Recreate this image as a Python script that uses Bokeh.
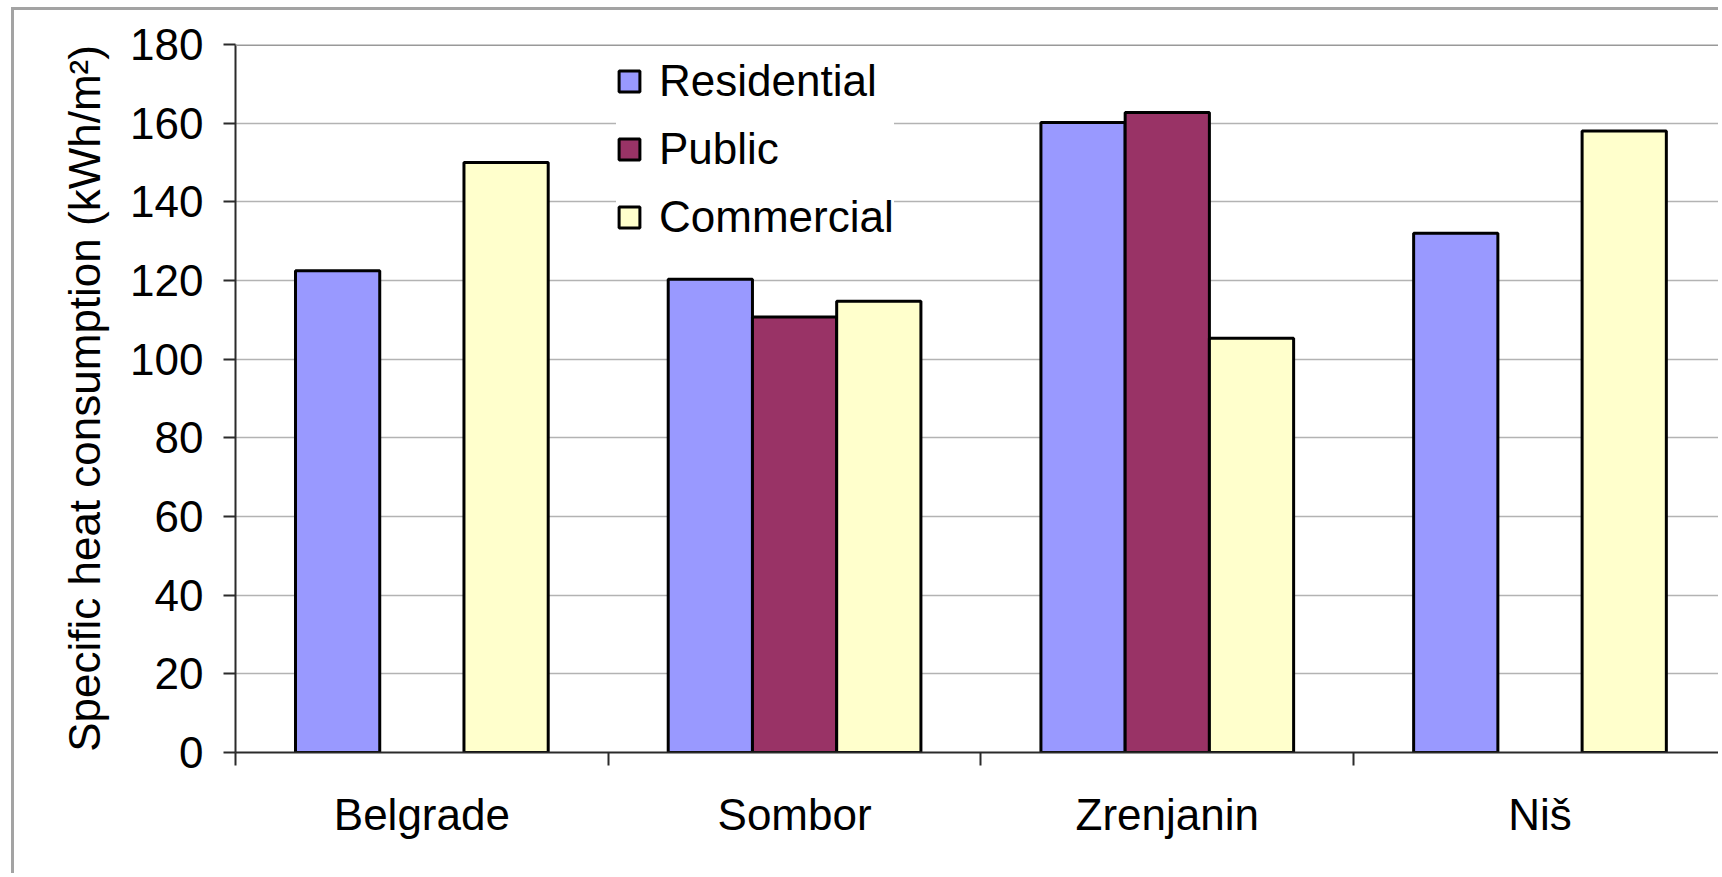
from bokeh.plotting import figure
from bokeh.models import Range1d, FixedTicker, ColumnDataSource, Legend, LegendItem, Span
from bokeh.embed import file_html
from bokeh.resources import INLINE

# ---- data ----
cities = ["Belgrade", "Sombor", "Zrenjanin", "Niš"]
series = ["Residential", "Public", "Commercial"]
residential = [122.5, 120.3, 160.2, 132.0]
public = [None, 110.7, 162.7, None]
commercial = [150.0, 114.7, 105.3, 158.0]
colors = ["#9999FF", "#993366", "#FFFFCC"]
y_ticks = [0, 20, 40, 60, 80, 100, 120, 140, 160, 180]
y_label = "Specific heat consumption (kWh/m²)"

FONT = "Liberation Sans"
FS = "44px"
W, H = 1707, 866
bar_w = 0.226
AX = "#2b2b2b"

p = figure(width=W, height=H, output_backend="svg", toolbar_location=None,
           x_range=Range1d(0, 3.987), y_range=Range1d(0, 180),
           min_border_left=221, min_border_right=0,
           min_border_top=34, min_border_bottom=124)
p.styles = {"margin-left": "11px", "margin-top": "7px",
            "border-left": "3px solid #a3a3a3", "border-top": "3px solid #a3a3a3"}
p.outline_line_color = None
p.background_fill_color = "white"
p.border_fill_color = "white"

# grid
p.xgrid.visible = False
p.ygrid.ticker = FixedTicker(ticks=y_ticks)
p.ygrid.grid_line_color = "#b3b3b3"
p.ygrid.grid_line_width = 1.5
p.add_layout(Span(location=180, dimension="width", line_color="#999999", line_width=3))

# bars
all_vals = [residential, public, commercial]
renderers = []
for i, vals in enumerate(all_vals):
    off = (i - 1) * bar_w
    xs = [j + 0.5 + off for j, v in enumerate(vals) if v is not None]
    tops = [v for v in vals if v is not None]
    src = ColumnDataSource(dict(x=xs, top=tops))
    r = p.vbar(x="x", top="top", bottom=0, width=bar_w, source=src,
               fill_color=colors[i], line_color="black", line_width=3)
    renderers.append(r)

# y axis
ya = p.yaxis[0]
ya.ticker = FixedTicker(ticks=y_ticks)
ya.major_tick_out = 12
ya.major_tick_in = 0
ya.minor_tick_out = 0
ya.minor_tick_in = 0
ya.axis_line_color = AX
ya.axis_line_width = 2
ya.major_tick_line_color = AX
ya.major_tick_line_width = 2
ya.major_label_text_font = FONT
ya.major_label_text_font_size = FS
ya.major_label_text_color = "black"
ya.major_label_standoff = 20
ya.axis_label = y_label
ya.axis_label_text_font = FONT
ya.axis_label_text_font_size = FS
ya.axis_label_text_font_style = "normal"
ya.axis_label_text_color = "black"
ya.axis_label_standoff = 18

# x axis
xa = p.xaxis[0]
centers = [j + 0.5 for j in range(len(cities))]
bounds = [float(j) for j in range(len(cities) + 1)]
xa.ticker = FixedTicker(ticks=centers, minor_ticks=bounds)
xa.major_label_overrides = {c: name for c, name in zip(centers, cities)}
xa.major_tick_out = 0
xa.major_tick_in = 0
xa.major_tick_line_color = None
xa.minor_tick_out = 13
xa.minor_tick_in = 0
xa.minor_tick_line_color = AX
xa.minor_tick_line_width = 2
xa.axis_line_color = AX
xa.axis_line_width = 2
xa.major_label_text_font = FONT
xa.major_label_text_font_size = FS
xa.major_label_text_color = "black"
xa.major_label_standoff = 24

# legend
legend = Legend(items=[LegendItem(label=s, renderers=[r]) for s, r in zip(series, renderers)],
                location=(381, 510), margin=0, padding=13, spacing=17,
                label_height=51, glyph_height=26, glyph_width=26, label_standoff=17,
                label_text_font=FONT, label_text_font_size=FS, label_text_color="black",
                border_line_color=None, background_fill_color="white", background_fill_alpha=1.0)
p.add_layout(legend)

open("out.html", "w").write(file_html(p, INLINE))
